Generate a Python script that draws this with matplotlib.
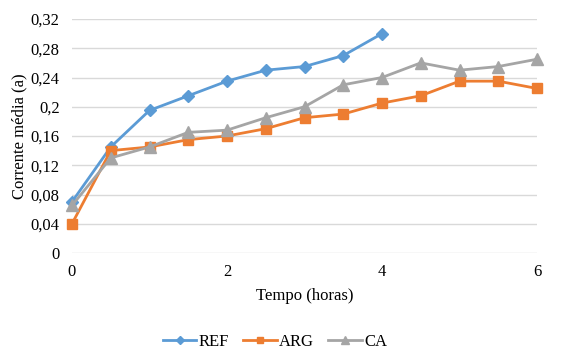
import matplotlib
matplotlib.use("Agg")
import matplotlib.pyplot as plt
from matplotlib.lines import Line2D

plt.rcParams['font.family'] = ['Liberation Serif', 'DejaVu Serif']

t_ref = [0, 0.5, 1, 1.5, 2, 2.5, 3, 3.5, 4]
ref = [0.07, 0.145, 0.195, 0.215, 0.235, 0.25, 0.255, 0.27, 0.30]
t_all = [0, 0.5, 1, 1.5, 2, 2.5, 3, 3.5, 4, 4.5, 5, 5.5, 6]
arg = [0.04, 0.14, 0.145, 0.155, 0.16, 0.17, 0.185, 0.19, 0.205, 0.215, 0.235, 0.235, 0.225]
ca = [0.065, 0.13, 0.145, 0.165, 0.168, 0.185, 0.20, 0.23, 0.24, 0.26, 0.25, 0.255, 0.265]

y_ticks = [0, 0.04, 0.08, 0.12, 0.16, 0.2, 0.24, 0.28, 0.32]
y_labels = ['0', '0,04', '0,08', '0,12', '0,16', '0,2', '0,24', '0,28', '0,32']
x_ticks = [0, 2, 4, 6]

colors = {'REF': '#5B9BD5', 'ARG': '#ED7D31', 'CA': '#A5A5A5'}

fig = plt.figure(figsize=(5.76, 3.54), dpi=100)
ax = fig.add_axes([72/576, 1-253/354, (537-72)/576, (253-19)/354])

ax.plot(t_ref, ref, color=colors['REF'], lw=2, marker='D', ms=6, clip_on=False, zorder=3)
ax.plot(t_all, arg, color=colors['ARG'], lw=2, marker='s', ms=7, clip_on=False, zorder=3)
ax.plot(t_all, ca, color=colors['CA'], lw=2, marker='^', ms=8, clip_on=False, zorder=3)

ax.set_xlim(0, 6)
ax.set_ylim(0, 0.32)
ax.set_yticks(y_ticks)
ax.set_yticklabels(y_labels)
ax.set_xticks(x_ticks)
ax.grid(axis='y', color='#D9D9D9', lw=1)
ax.set_axisbelow(True)
for s in ax.spines.values():
    s.set_visible(False)
ax.tick_params(length=0, labelsize=12, colors='#000000')
ax.tick_params(axis='y', pad=9)
ax.tick_params(axis='x', pad=8)
ax.set_xlabel('Tempo (horas)', fontsize=12, labelpad=6)
ax.set_ylabel('Corrente média (a)', fontsize=12, labelpad=2)

handles = [
    Line2D([], [], color=colors['REF'], lw=2, marker='D', ms=4.5),
    Line2D([], [], color=colors['ARG'], lw=2, marker='s', ms=5),
    Line2D([], [], color=colors['CA'], lw=2, marker='^', ms=6),
]
fig.legend(handles, ['REF', 'ARG', 'CA'], loc='center', bbox_to_anchor=(275/576, 1-342/354),
           ncol=3, frameon=False, fontsize=12, handlelength=2.0, columnspacing=0.85,
           handletextpad=0.15)

fig.savefig('out.png', dpi=100)
